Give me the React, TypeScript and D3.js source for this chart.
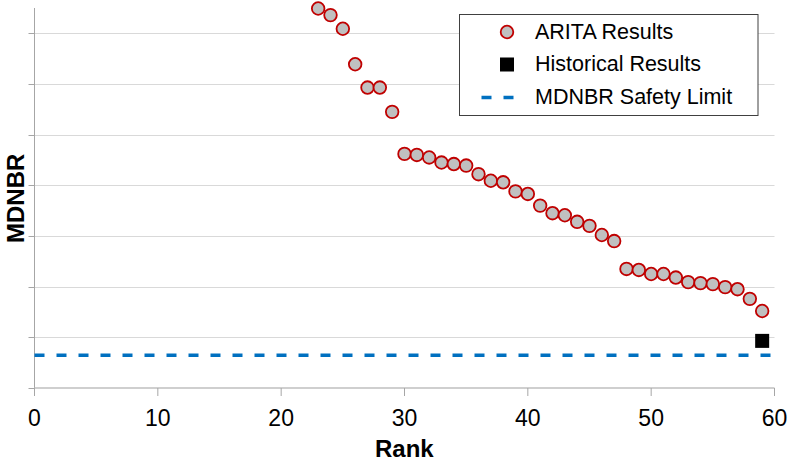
import React from "react";
import * as d3 from "d3";

// Ranked MDNBR results (values in grid units of the y axis)
const aritaRanks = [23, 24, 25, 26, 27, 28, 29, 30, 31, 32, 33, 34, 35, 36, 37, 38, 39, 40, 41, 42, 43, 44, 45, 46, 47, 48, 49, 50, 51, 52, 53, 54, 55, 56, 57, 58, 59];
const aritaValues = [7.49, 7.36, 7.09, 6.39, 5.93, 5.93, 5.45, 4.62, 4.6, 4.55, 4.45, 4.42, 4.39, 4.22, 4.09, 4.06, 3.88, 3.83, 3.6, 3.45, 3.41, 3.28, 3.2, 3.02, 2.9, 2.35, 2.33, 2.25, 2.25, 2.18, 2.09, 2.07, 2.05, 1.99, 1.95, 1.76, 1.52];
const historicalRanks = [59];
const historicalValues = [0.93];
const safetyLimit = 0.645;

const xTicks = [0, 10, 20, 30, 40, 50, 60];
const yTicks = [0, 1, 2, 3, 4, 5, 6, 7];

const legendItems = ["ARITA Results", "Historical Results", "MDNBR Safety Limit"];

const W = 791;
const H = 462;
const FONT = "'Liberation Sans', Arial, sans-serif";

export default function App() {
  const x = d3.scaleLinear().domain([0, 60]).range([34.5, 774.5]);
  const y = d3.scaleLinear().domain([0, 7.5]).range([388, 8]);

  const arita = aritaRanks.map((r, i) => ({ r, v: aritaValues[i] }));
  const hist = historicalRanks.map((r, i) => ({ r, v: historicalValues[i] }));

  const lx = 459.5;
  const ly = 14.5;
  const lw = 298.5;
  const lh = 101;
  const rowY = [32, 64.5, 97.5];
  const symX = 507;

  return (
    <svg width={W} height={H} style={{ position: "absolute", left: 0, top: 0, background: "#fff" }} fontFamily={FONT}>
      {/* horizontal gridlines */}
      {yTicks.slice(1).map((t) => (
        <line key={"g" + t} x1={x(0)} x2={x(60)} y1={Math.round(y(t)) + 0.5} y2={Math.round(y(t)) + 0.5} stroke="#d9d9d9" strokeWidth={1} />
      ))}
      {/* y axis */}
      <line x1={x(0)} x2={x(0)} y1={y(7.5)} y2={y(0)} stroke="#a6a6a6" strokeWidth={1} />
      {yTicks.map((t) => (
        <line key={"yt" + t} x1={x(0) - 6} x2={x(0)} y1={Math.round(y(t)) + 0.5} y2={Math.round(y(t)) + 0.5} stroke="#a6a6a6" strokeWidth={1} />
      ))}
      {/* x axis */}
      <line x1={x(0)} x2={x(60)} y1={y(0)} y2={y(0)} stroke="#bfbfbf" strokeWidth={1.5} />
      {xTicks.map((t) => (
        <g key={"xt" + t}>
          <line x1={x(t)} x2={x(t)} y1={y(0)} y2={y(0) + 8} stroke="#a6a6a6" strokeWidth={1} />
          <text x={x(t)} y={425.5} textAnchor="middle" fontSize={23} fill="#000">
            {t}
          </text>
        </g>
      ))}
      <text x={404.3} y={457} textAnchor="middle" fontSize={24} fontWeight="bold" fill="#000">
        Rank
      </text>
      <text transform={`translate(23.5,198.3) rotate(-90)`} textAnchor="middle" fontSize={24} fontWeight="bold" fill="#000">
        MDNBR
      </text>

      {/* safety limit */}
      <line x1={x(0)} x2={x(60)} y1={y(safetyLimit)} y2={y(safetyLimit)} stroke="#0070c0" strokeWidth={3.5} strokeDasharray="10 12" />

      {/* historical result */}
      {hist.map((d, i) => (
        <rect key={"h" + i} x={x(d.r) - 7} y={y(d.v) - 7} width={14} height={14} fill="#000" />
      ))}

      {/* ARITA results */}
      {arita.map((d, i) => (
        <circle key={"a" + i} cx={x(d.r)} cy={y(d.v)} r={6.3} fill="#c0c0c0" stroke="#c00000" strokeWidth={1.8} />
      ))}

      {/* legend */}
      <rect x={lx} y={ly} width={lw} height={lh} fill="#fff" stroke="#404040" strokeWidth={1} />
      <circle cx={symX} cy={rowY[0]} r={6.3} fill="#c0c0c0" stroke="#c00000" strokeWidth={1.8} />
      <rect x={symX - 7} y={rowY[1] - 7} width={14} height={14} fill="#000" />
      <line x1={481.5} x2={521} y1={rowY[2]} y2={rowY[2]} stroke="#0070c0" strokeWidth={3.5} strokeDasharray="10 12" />
      {legendItems.map((s, i) => (
        <text key={s} x={535} y={rowY[i] + 6.5} fontSize={21.5} fill="#000">
          {s}
        </text>
      ))}
    </svg>
  );
}
